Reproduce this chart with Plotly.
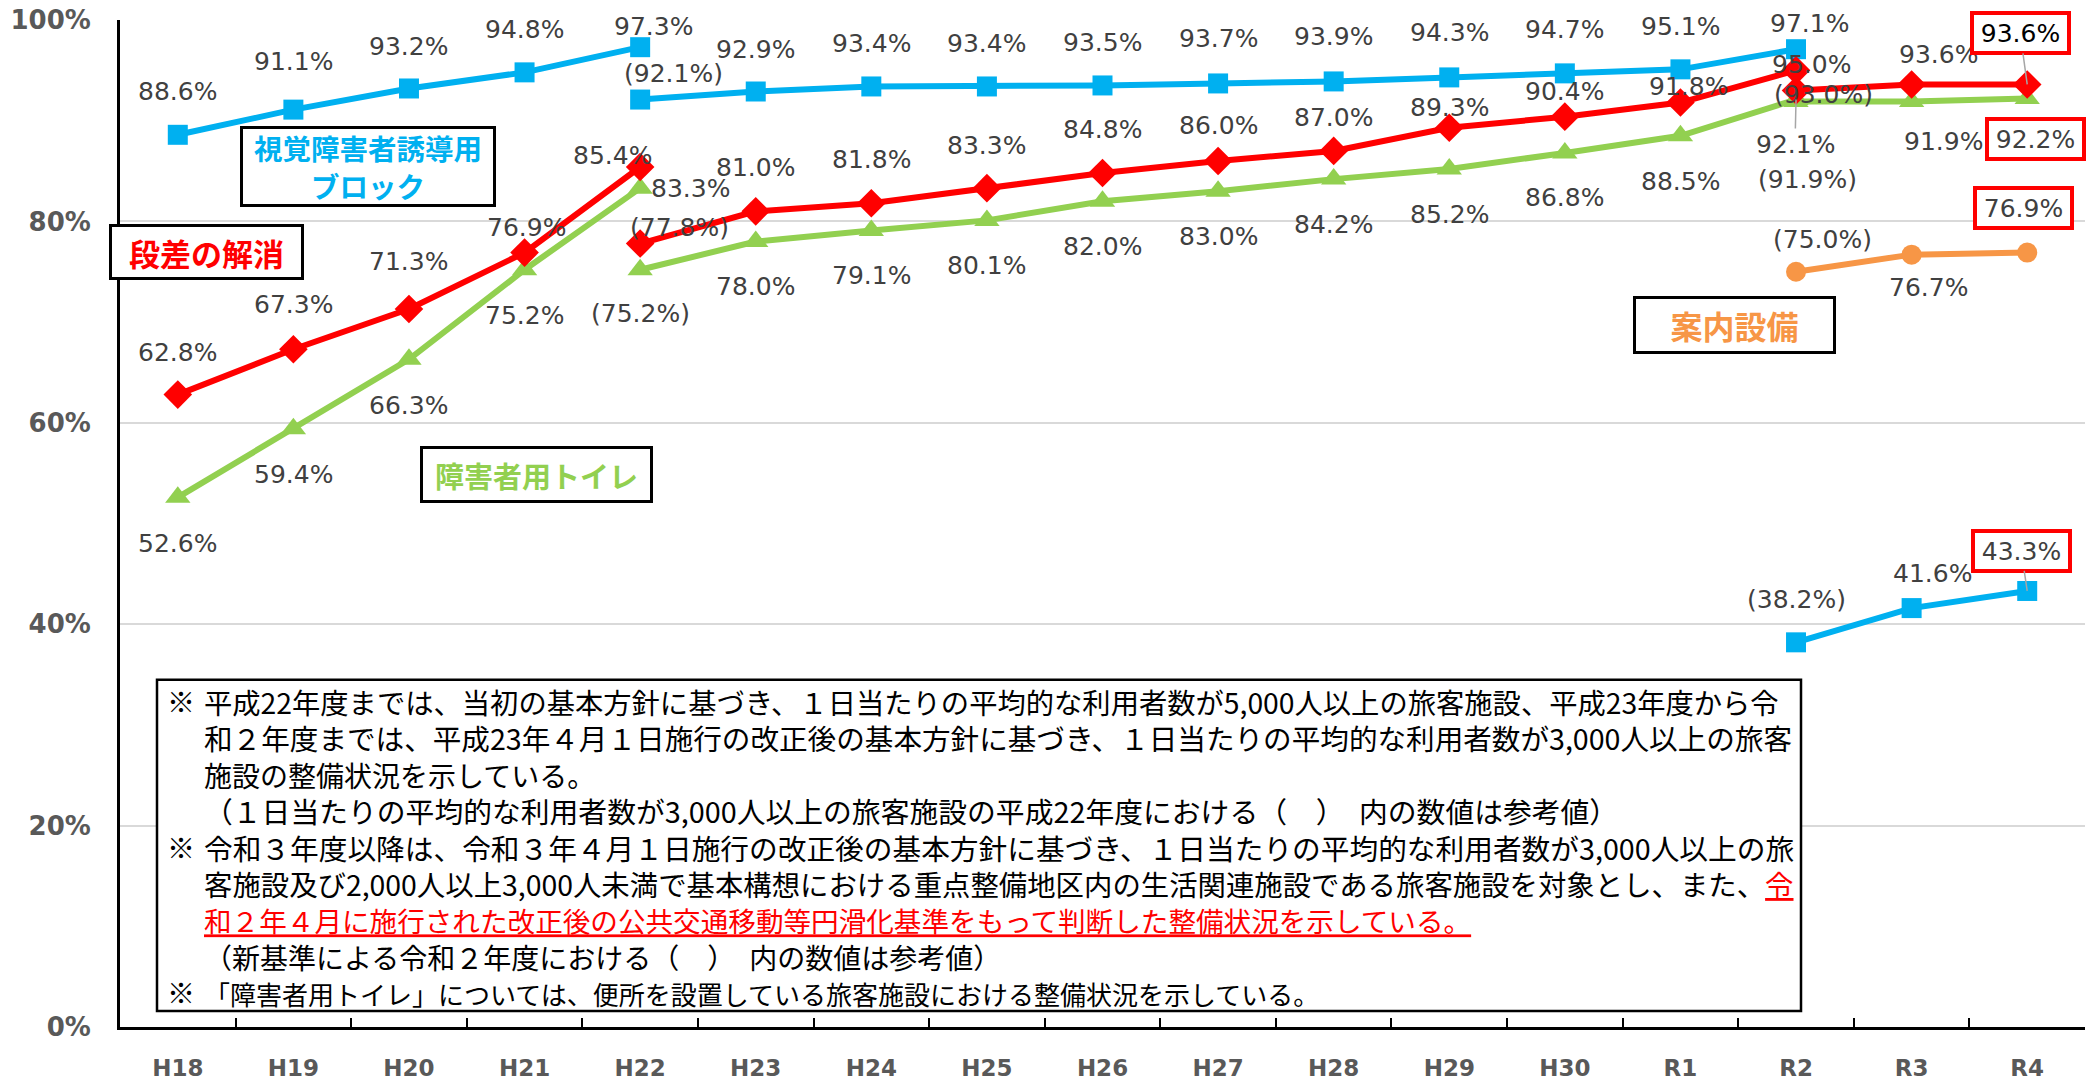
import plotly.graph_objects as go

# ---------------- data ----------------
categories = ["H18", "H19", "H20", "H21", "H22", "H23", "H24", "H25", "H26",
              "H27", "H28", "H29", "H30", "R1", "R2", "R3", "R4"]
years_old = categories[0:5]      # H18-H22 (old standard)
years_mid = categories[4:15]     # H22-R2
years_new = categories[14:17]    # R2-R4 (new standard)

block_old = [88.6, 91.1, 93.2, 94.8, 97.3]
block_mid = [92.1, 92.9, 93.4, 93.4, 93.5, 93.7, 93.9, 94.3, 94.7, 95.1, 97.1]
block_new = [38.2, 41.6, 43.3]

step_old = [62.8, 67.3, 71.3, 76.9, 85.4]
step_mid = [77.8, 81.0, 81.8, 83.3, 84.8, 86.0, 87.0, 89.3, 90.4, 91.8, 95.0]
step_new = [93.0, 93.6, 93.6]

toilet_old = [52.6, 59.4, 66.3, 75.2, 83.3]
toilet_mid = [75.2, 78.0, 79.1, 80.1, 82.0, 83.0, 84.2, 85.2, 86.8, 88.5, 92.1]
toilet_new = [91.9, 91.9, 92.2]

guide_new = [75.0, 76.7, 76.9]

y_ticks = [0, 20, 40, 60, 80, 100]
y_tick_text = ["0%", "20%", "40%", "60%", "80%", "100%"]

name_block = "視覚障害者誘導用<br>ブロック"
name_step = "段差の解消"
name_toilet = "障害者用トイレ"
name_guide = "案内設備"

note_lines = [
    "平成22年度までは、当初の基本方針に基づき、１日当たりの平均的な利用者数が5,000人以上の旅客施設、平成23年度から令",
    "和２年度までは、平成23年４月１日施行の改正後の基本方針に基づき、１日当たりの平均的な利用者数が3,000人以上の旅客",
    "施設の整備状況を示している。",
    "（１日当たりの平均的な利用者数が3,000人以上の旅客施設の平成22年度における（　）　内の数値は参考値）",
    "令和３年度以降は、令和３年４月１日施行の改正後の基本方針に基づき、１日当たりの平均的な利用者数が3,000人以上の旅",
    "客施設及び2,000人以上3,000人未満で基本構想における重点整備地区内の生活関連施設である旅客施設を対象とし、また、"
    "<span style='color:#FF0000'><u>令</u></span>",
    "<span style='color:#FF0000'><u>和２年４月に施行された改正後の公共交通移動等円滑化基準をもって判断した整備状況を示している。</u></span>",
    "（新基準による令和２年度における（　）　内の数値は参考値）",
    "「障害者用トイレ」については、便所を設置している旅客施設における整備状況を示している。",
]
note_marks = [0, 4, 8]   # lines starting with ※

# ---------------- style ----------------
BLUE, RED, GREEN, ORANGE = "#00B0F0", "#FF0000", "#92D050", "#F79646"
LABEL_FONT = dict(family="DejaVu Sans", size=25, color="#404040")
JP = "Noto Sans CJK JP"
NOTE_BASE = 28
note_sizes = [28.3, 28.6, 28.0, 28.8, 28.7, 28.4, 27.6, 28.0, 26.0]

W, H = 2089, 1085
ML, MR, MT, MB = 120, 4, 20, 53
PW, PH = W - ML - MR, H - MT - MB


def xp(px):
    return (px - ML) / PW


def yp(py):
    return (MT + PH - py) / PH


# label offsets (dx, dy) in px; "box" = framed label, "lead" = with leader line
off_block_old = [(0, 43), (0, 48), (0, 42), (0, 43), (13, 21)]
off_block_mid = [(33, 26), (0, 42), (0, 43), (0, 43), (0, 43), (0, 45), (0, 45),
                 (0, 45), (0, 44), (0, 43), (13, 26)]
off_block_new = [(0, 43), (21, 35), (-6, 40, "boxlead")]
off_step_old = [(0, 42), (0, 45), (0, 48), (2, 25), (-28, 12)]
off_step_mid = [(39, 16), (0, 44), (0, 44), (0, 43), (0, 44), (0, 35), (0, 33),
                (0, 20), (0, 25), (8, 16), (15, 6)]
off_step_new = [(27, -4), (27, 30), (-7, 51, "boxlead", "#000000")]
off_toilet_old = [(0, -46), (0, -46), (0, -46), (0, -46), (50, 0)]
off_toilet_mid = [(0, -44), (0, -45), (0, -45), (0, -45), (0, -45), (0, -45),
                  (0, -45), (0, -45), (0, -45), (0, -46), (-1, -45, "lead")]
off_toilet_new = [(11, -78), (32, -40), (8, -40, "box")]
off_guide_new = [(26, 32), (17, -33), (-4, 45, "box")]

fig = go.Figure()


def add_series(xs, ys, color, symbol, msize):
    fig.add_trace(go.Scatter(
        x=xs, y=ys, mode="lines+markers", showlegend=False, cliponaxis=False,
        line=dict(color=color, width=6),
        marker=dict(symbol=symbol, size=msize, color=color, line=dict(width=0)),
        hoverinfo="x+y"))


annotations = []


def add_labels(xs, ys, offs, ref_first):
    for i, (x, v, o) in enumerate(zip(xs, ys, offs)):
        txt = f"{v:.1f}%"
        if ref_first and i == 0:
            txt = f"({txt})"
        dx, dy = o[0], o[1]
        kind = o[2] if len(o) > 2 else ""
        font = dict(LABEL_FONT)
        if len(o) > 3:
            font["color"] = o[3]
        a = dict(x=x, y=v, xref="x", yref="y", text=txt, font=font)
        if "lead" in kind:
            a.update(showarrow=True, arrowhead=0, arrowwidth=1.5, arrowcolor="#A6A6A6",
                     ax=dx, ay=-dy, standoff=0)
        else:
            a.update(showarrow=False, xshift=dx, yshift=dy)
        if "box" in kind:
            a.update(bordercolor=RED, borderwidth=4, bgcolor="white", borderpad=0,
                     width=93, height=36)
        annotations.append(a)


add_series(years_old, block_old, BLUE, "square", 20)
add_series(years_mid, block_mid, BLUE, "square", 20)
add_series(years_new, block_new, BLUE, "square", 20)
add_series(years_old, toilet_old, GREEN, "triangle-up", 22)
add_series(years_mid, toilet_mid, GREEN, "triangle-up", 22)
add_series(years_new, toilet_new, GREEN, "triangle-up", 22)
add_series(years_old, step_old, RED, "diamond", 22)
add_series(years_mid, step_mid, RED, "diamond", 22)
add_series(years_new, step_new, RED, "diamond", 22)
add_series(years_new, guide_new, ORANGE, "circle", 20)

add_labels(years_old, block_old, off_block_old, False)
add_labels(years_mid, block_mid, off_block_mid, True)
add_labels(years_new, block_new, off_block_new, True)
add_labels(years_old, step_old, off_step_old, False)
add_labels(years_mid, step_mid, off_step_mid, True)
add_labels(years_new, step_new, off_step_new, True)
add_labels(years_old, toilet_old, off_toilet_old, False)
add_labels(years_mid, toilet_mid, off_toilet_mid, True)
add_labels(years_new, toilet_new, off_toilet_new, True)
add_labels(years_new, guide_new, off_guide_new, True)

# series name boxes
for text, color, cx, cy, w, h, fs in [
    (name_block, BLUE, 368, 167, 250, 75, 28.5),
    (name_step, RED, 206, 253, 189, 50, 31),
    (name_toilet, GREEN, 536, 477, 227, 51, 29),
    (name_guide, ORANGE, 1734, 327, 197, 52, 32),
]:
    annotations.append(dict(
        xref="paper", yref="paper", x=xp(cx), y=yp(cy), xanchor="center", yanchor="middle",
        text=f"<b>{text}</b>", showarrow=False,
        font=dict(family=JP, size=fs, color=color),
        bordercolor="black", borderwidth=3, borderpad=0, bgcolor="white",
        width=w, height=h))

# note box: one text block + one column of ※ marks
note_body = "<br>".join(
    f"<span style='font-size:{s}px'>{t}</span>" for t, s in zip(note_lines, note_sizes))
note_mark_col = "<br>".join("※" if i in note_marks else "　" for i in range(len(note_lines)))
note_cy = 705 + 36.4 * (len(note_lines) - 1) / 2
annotations.append(dict(xref="paper", yref="paper", x=xp(202), y=yp(note_cy),
                        xanchor="left", yanchor="middle", align="left", text=note_body,
                        showarrow=False, font=dict(family=JP, size=NOTE_BASE, color="#000000")))
annotations.append(dict(xref="paper", yref="paper", x=xp(165), y=yp(note_cy),
                        xanchor="left", yanchor="middle", align="left", text=note_mark_col,
                        showarrow=False, font=dict(family=JP, size=NOTE_BASE, color="#000000")))

fig.add_shape(type="rect", xref="paper", yref="paper",
              x0=xp(157), x1=xp(1801), y0=yp(1016), y1=yp(683),
              line=dict(color="black", width=2.5), fillcolor="white", layer="above")

fig.update_layout(
    width=W, height=H,
    margin=dict(l=ML, r=MR, t=MT, b=MB),
    paper_bgcolor="white", plot_bgcolor="white",
    annotations=annotations,
    xaxis=dict(type="category", categoryorder="array", categoryarray=categories,
               range=[-0.5, len(categories) - 0.5],
               showline=True, linecolor="black", linewidth=3,
               ticks="inside", tickson="boundaries", ticklen=9, tickwidth=2,
               tickcolor="black", showgrid=False, ticklabelstandoff=18,
               tickfont=dict(family="DejaVu Sans", size=23, color="#595959", weight="bold")),
    yaxis=dict(range=[0, 100], tickmode="array", tickvals=y_ticks, ticktext=y_tick_text,
               showline=True, linecolor="black", linewidth=3,
               showgrid=True, gridcolor="#D9D9D9", gridwidth=2, zeroline=False,
               ticks="", ticklabelstandoff=21,
               tickfont=dict(family="DejaVu Sans", size=26, color="#595959", weight="bold")),
)

fig.write_html("out.html", config={"displayModeBar": False},
               post_script="document.body.style.margin='0px';")
